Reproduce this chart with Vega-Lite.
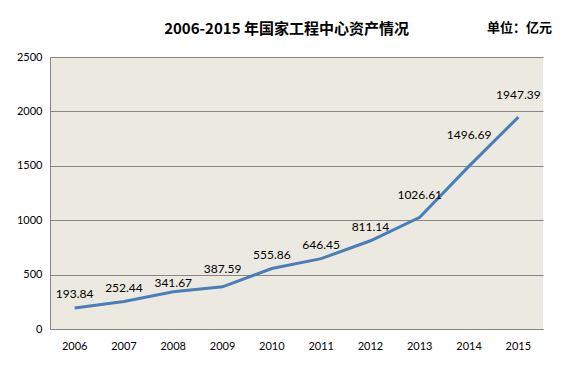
{
  "$schema": "https://vega.github.io/schema/vega-lite/v6.json",
  "autosize": {"type": "none"},
  "padding": {"left": 50, "top": 57, "right": 23, "bottom": 44},
  "width": 493,
  "height": 272,
  "background": "#ffffff",
  "title": {
    "text": "2006-2015 年国家工程中心资产情况",
    "font": "Noto Sans CJK SC",
    "fontSize": 15,
    "fontWeight": "bold",
    "color": "#000000",
    "anchor": "middle",
    "frame": "group",
    "dx": -10,
    "offset": -16
  },
  "data": {
    "values": [
      {"year": "2006", "value": 193.84},
      {"year": "2007", "value": 252.44},
      {"year": "2008", "value": 341.67},
      {"year": "2009", "value": 387.59},
      {"year": "2010", "value": 555.86},
      {"year": "2011", "value": 646.45},
      {"year": "2012", "value": 811.14},
      {"year": "2013", "value": 1026.61},
      {"year": "2014", "value": 1496.69},
      {"year": "2015", "value": 1947.39}
    ]
  },
  "encoding": {
    "x": {
      "field": "year",
      "type": "ordinal",
      "scale": {"type": "band", "paddingInner": 0, "paddingOuter": 0},
      "axis": {
        "title": null,
        "labelAngle": 0,
        "ticks": false,
        "labelPadding": 11,
        "labelFont": "Lato",
        "labelFontSize": 11,
        "labelColor": "#000000",
        "domainColor": "#868686",
        "grid": false
      }
    },
    "y": {
      "field": "value",
      "type": "quantitative",
      "scale": {"domain": [0, 2500], "nice": false},
      "axis": {
        "values": [0, 500, 1000, 1500, 2000, 2500],
        "format": "d",
        "ticks": false,
        "labelPadding": 8,
        "labelFont": "Lato",
        "labelFontSize": 11,
        "labelColor": "#000000",
        "domainColor": "#868686",
        "gridColor": "#868686",
        "gridOpacity": 1,
        "title": "单位：亿元",
        "titleAngle": 0,
        "titleX": 469,
        "titleY": -30,
        "titleAlign": "center",
        "titleBaseline": "middle",
        "titleFont": "Noto Sans CJK SC",
        "titleFontSize": 13,
        "titleFontWeight": "bold",
        "titleColor": "#000000"
      }
    },
    "text": {"field": "value", "type": "quantitative", "format": ".2f"}
  },
  "layer": [
    {
      "mark": {"type": "line", "color": "#4A7EBB", "strokeWidth": 3},
      "encoding": {"text": null}
    },
    {
      "transform": [{"filter": {"field": "year", "oneOf": ["2006", "2007", "2010", "2011", "2012"]}}],
      "mark": {"type": "text", "dy": -14, "font": "Lato", "fontSize": 12, "color": "#000000"}
    },
    {
      "transform": [{"filter": {"field": "year", "oneOf": ["2008"]}}],
      "mark": {"type": "text", "dy": -9, "font": "Lato", "fontSize": 12, "color": "#000000"}
    },
    {
      "transform": [{"filter": {"field": "year", "oneOf": ["2009"]}}],
      "mark": {"type": "text", "dy": -18, "font": "Lato", "fontSize": 12, "color": "#000000"}
    },
    {
      "transform": [{"filter": {"field": "year", "oneOf": ["2013", "2015"]}}],
      "mark": {"type": "text", "dy": -22, "font": "Lato", "fontSize": 12, "color": "#000000"}
    },
    {
      "transform": [{"filter": {"field": "year", "oneOf": ["2014"]}}],
      "mark": {"type": "text", "dy": -31, "font": "Lato", "fontSize": 12, "color": "#000000"}
    }
  ],
  "config": {
    "view": {"fill": "#ECEAE0", "stroke": null}
  }
}
